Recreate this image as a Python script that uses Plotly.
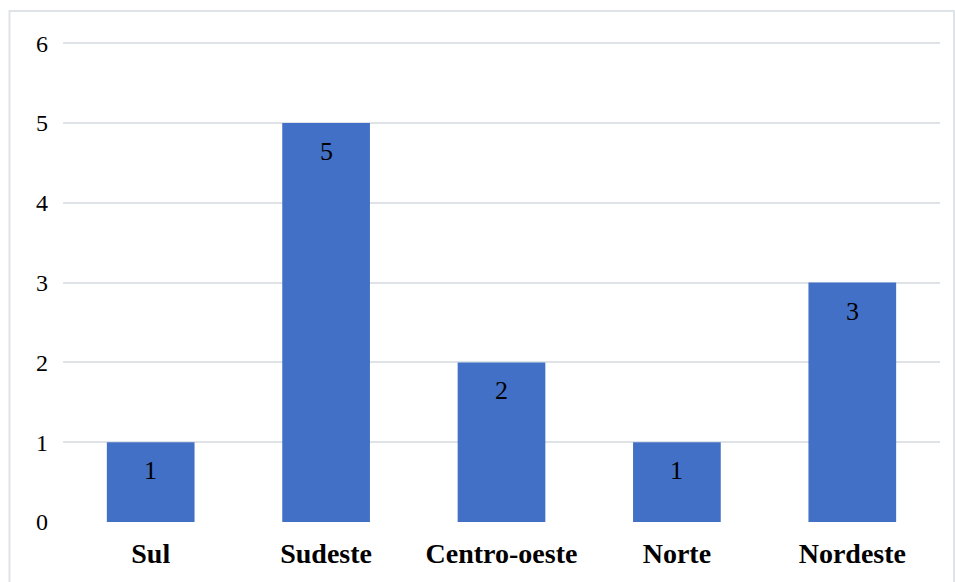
import plotly.graph_objects as go

regions = ["Sul", "Sudeste", "Centro-oeste", "Norte", "Nordeste"]
counts = [1, 5, 2, 1, 3]
y_ticks = [0, 1, 2, 3, 4, 5, 6]

serif = "Liberation Serif"

fig = go.Figure()
fig.add_trace(go.Bar(
    x=regions, y=counts, width=0.5,
    marker=dict(color="#4270c6", line=dict(width=0)),
    hoverinfo="skip",
))

for r, v in zip(regions, counts):
    fig.add_annotation(x=r, y=v, text=str(v), showarrow=False,
                       yanchor="top", yshift=-12,
                       font=dict(family=serif, size=26, color="#000000"))

fig.add_shape(type="rect", xref="paper", yref="paper",
              x0=-0.061, x1=1.016, y0=-0.3, y1=1.06,
              line=dict(color="#dfe3e8", width=2), layer="below")

fig.update_layout(
    width=955, height=582,
    margin=dict(l=63, r=15, t=40, b=60),
    paper_bgcolor="white", plot_bgcolor="white",
    showlegend=False,
    font=dict(family=serif),
    xaxis=dict(showgrid=False, zeroline=False, showline=False,
               tickfont=dict(family=serif, size=28, color="#000000", weight="bold"),
               ticklabelstandoff=12),
    yaxis=dict(range=[0, 6.04], tickvals=y_ticks, showgrid=True,
               gridcolor="#dfe2e7", gridwidth=2, zeroline=False, showline=False,
               tickfont=dict(family=serif, size=24, color="#000000"),
               ticklabelstandoff=14),
)

fig.write_html("out.html")
